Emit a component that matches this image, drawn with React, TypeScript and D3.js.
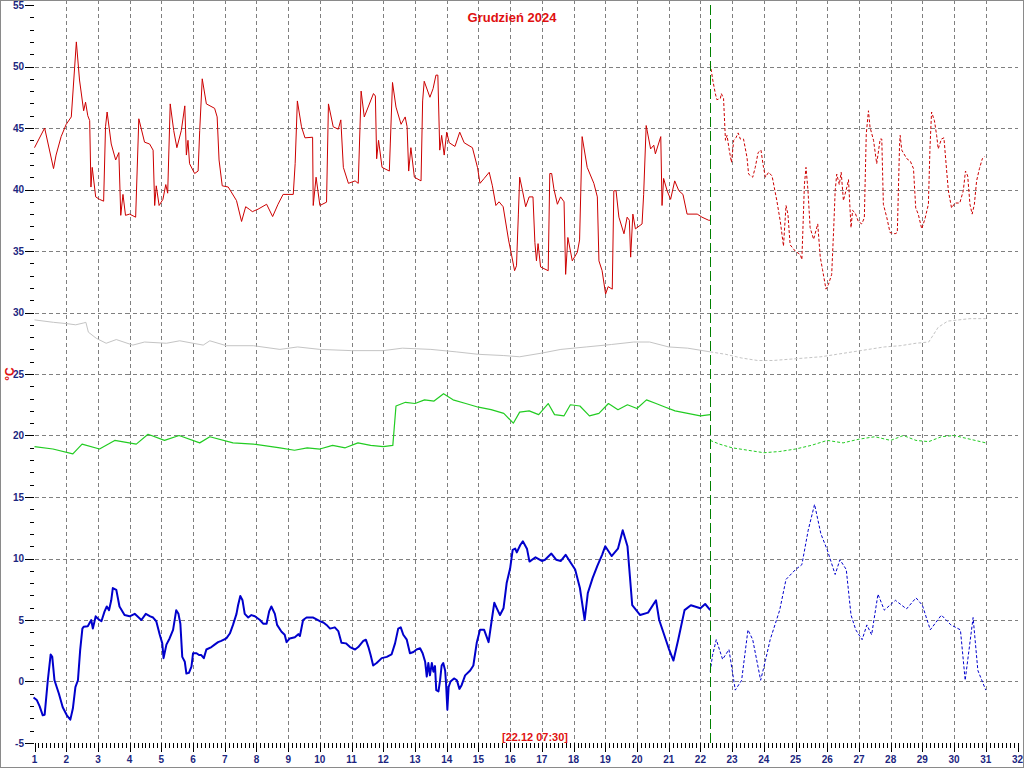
import React from 'react';
import * as d3 from 'd3';

const W = 1024;
const H = 768;

const title = 'Grudzień 2024';
const unitLabel = '°C';
const nowLabel = '[22.12 07:30]';
const nowDay = 22 + 7.5 / 24;

const dayTicks = d3.range(1, 33);
const valueTicks = d3.range(-5, 56, 5);
const minorValueTicks = d3.range(-5, 56, 1);
const minorDayTicks = d3.range(1, 32, 0.125);

type P = [number, number];

const redObserved: P[] = [
  [1.0, 43.4], [1.32, 45.0], [1.6, 41.7], [1.68, 42.8], [1.84, 44.3], [2.0, 45.3], [2.16, 45.9], [2.32, 52.0],
  [2.42, 48.9], [2.55, 46.4], [2.61, 47.1], [2.68, 46.0], [2.74, 45.6], [2.78, 40.2], [2.82, 41.8], [2.93, 39.4],
  [3.05, 39.2], [3.18, 39.05], [3.24, 45.1], [3.29, 46.3], [3.42, 43.7], [3.56, 42.4], [3.66, 43.0], [3.72, 37.9],
  [3.79, 39.6], [3.87, 37.9], [4.0, 38.0], [4.19, 37.75], [4.29, 45.75], [4.47, 43.85], [4.63, 43.7], [4.74, 43.2],
  [4.79, 38.7], [4.84, 40.3], [4.93, 38.7], [5.05, 39.2], [5.14, 40.4], [5.2, 39.7], [5.28, 46.96], [5.39, 44.8],
  [5.49, 43.4], [5.63, 44.8], [5.74, 46.8], [5.79, 42.8], [5.84, 44.0], [5.89, 42.1], [6.05, 41.3], [6.16, 41.5],
  [6.21, 44.8], [6.29, 49.0], [6.42, 46.96], [6.68, 46.6], [6.76, 45.9], [6.82, 42.4], [6.92, 40.3], [7.11, 40.2],
  [7.37, 39.1], [7.53, 37.4], [7.66, 38.6], [7.77, 38.4], [7.87, 38.2], [8.05, 38.4], [8.32, 38.8], [8.51, 37.8],
  [8.68, 38.8], [8.84, 39.6], [9.16, 39.6], [9.22, 42.1], [9.29, 47.2], [9.42, 45.1], [9.53, 44.2], [9.77, 44.25],
  [9.79, 38.7], [9.88, 41.0], [10.0, 38.7], [10.21, 38.97], [10.27, 46.96], [10.42, 45.1], [10.58, 44.9], [10.66, 45.66],
  [10.74, 41.8], [10.9, 40.5], [11.11, 40.7], [11.21, 40.5], [11.3, 48.0], [11.4, 45.9], [11.69, 47.8], [11.75, 47.6],
  [11.79, 42.5], [11.85, 44.0], [11.96, 41.8], [12.19, 41.5], [12.22, 43.7], [12.29, 48.7], [12.4, 46.7], [12.56, 45.3],
  [12.69, 45.9], [12.75, 45.1], [12.8, 41.5], [12.87, 43.4], [12.98, 41.0], [13.19, 40.7], [13.24, 47.2], [13.29, 48.8],
  [13.47, 47.5], [13.57, 48.2], [13.66, 49.3], [13.72, 49.3], [13.78, 43.2], [13.84, 44.4], [13.92, 42.8], [14.0, 44.66],
  [14.08, 43.8], [14.26, 43.5], [14.41, 44.66], [14.55, 43.8], [14.81, 43.4], [14.97, 41.8], [15.05, 40.5], [15.18, 40.9],
  [15.34, 41.4], [15.44, 40.3], [15.55, 38.7], [15.65, 39.0], [15.78, 38.6], [15.95, 35.9], [16.05, 34.6], [16.14, 33.4],
  [16.2, 33.8], [16.26, 38.0], [16.3, 41.0], [16.39, 39.9], [16.49, 38.6], [16.6, 39.4], [16.72, 39.4], [16.78, 35.7],
  [16.83, 34.2], [16.88, 35.6], [16.96, 33.7], [17.2, 33.4], [17.25, 41.3], [17.31, 41.3], [17.38, 40.05], [17.49, 38.8],
  [17.59, 39.4], [17.7, 39.0], [17.75, 33.1], [17.82, 36.1], [17.96, 34.2], [18.12, 34.9], [18.19, 35.9], [18.27, 44.3],
  [18.43, 41.8], [18.64, 40.5], [18.75, 39.4], [18.8, 34.2], [18.9, 33.4], [19.01, 31.5], [19.09, 32.1], [19.22, 31.9],
  [19.27, 39.9], [19.34, 39.9], [19.43, 37.75], [19.59, 36.4], [19.69, 37.75], [19.76, 37.5], [19.8, 34.5], [19.87, 38.0],
  [19.95, 36.8], [20.16, 37.2], [20.21, 39.6], [20.29, 45.2], [20.43, 43.3], [20.53, 43.6], [20.58, 42.9], [20.75, 44.3],
  [20.79, 38.7], [20.84, 40.9], [20.95, 39.9], [21.06, 39.2], [21.19, 40.7], [21.32, 39.9], [21.45, 39.6], [21.58, 38.0],
  [21.9, 38.0], [22.05, 37.75], [22.26, 37.5], [22.31, 37.5],
];

const redForecast: P[] = [
  [22.31, 50.2], [22.39, 48.9], [22.47, 47.8], [22.52, 47.3], [22.63, 47.4], [22.66, 47.8], [22.73, 47.4], [22.79, 44.0],
  [22.84, 44.4], [22.91, 43.2], [22.98, 42.2], [23.05, 44.0], [23.12, 44.2], [23.19, 44.6], [23.26, 44.1], [23.36, 44.1],
  [23.47, 42.6], [23.52, 41.25], [23.65, 41.0], [23.73, 41.8], [23.82, 43.0], [23.91, 43.2], [23.99, 41.8], [24.05, 41.0],
  [24.15, 41.4], [24.26, 41.1], [24.41, 39.1], [24.52, 37.4], [24.62, 35.4], [24.7, 38.7], [24.76, 38.0], [24.83, 35.5],
  [24.99, 35.0], [25.15, 34.7], [25.2, 34.3], [25.28, 40.4], [25.33, 41.8], [25.39, 40.0], [25.46, 36.9], [25.57, 35.95],
  [25.7, 37.2], [25.78, 34.5], [25.85, 33.5], [25.96, 31.9], [26.04, 32.3], [26.14, 33.1], [26.2, 36.6], [26.25, 39.9],
  [26.3, 41.25], [26.38, 40.4], [26.44, 41.4], [26.51, 39.1], [26.62, 40.2], [26.67, 40.8], [26.75, 36.9], [26.8, 38.3],
  [26.88, 38.1], [26.98, 37.4], [27.09, 37.2], [27.17, 37.7], [27.23, 44.5], [27.3, 46.4], [27.35, 45.05], [27.46, 44.0],
  [27.56, 42.1], [27.67, 44.1], [27.72, 44.1], [27.77, 38.8], [27.88, 37.7], [27.98, 36.5], [28.14, 36.4], [28.21, 36.5],
  [28.28, 43.6], [28.3, 44.4], [28.35, 43.2], [28.51, 42.5], [28.62, 42.3], [28.72, 41.7], [28.79, 38.5], [28.87, 38.0],
  [28.98, 36.8], [29.08, 37.6], [29.19, 38.8], [29.24, 43.4], [29.29, 46.3], [29.38, 45.6], [29.45, 44.4], [29.5, 43.3],
  [29.6, 44.1], [29.68, 44.2], [29.76, 41.7], [29.82, 39.9], [29.92, 38.5], [30.03, 38.9], [30.18, 38.9], [30.29, 39.9],
  [30.36, 41.5], [30.43, 41.1], [30.5, 38.8], [30.57, 38.0], [30.64, 38.8], [30.71, 40.7], [30.8, 41.7], [30.89, 42.5],
  [30.97, 42.7],
];

const grayObserved: P[] = [
  [1.0, 29.4], [1.3, 29.3], [1.6, 29.2], [2.0, 29.1], [2.3, 29.0], [2.55, 29.15], [2.62, 29.2], [2.7, 28.4],
  [2.95, 27.9], [3.26, 27.5], [3.58, 27.8], [4.1, 27.35], [4.47, 27.6], [5.16, 27.5], [5.58, 27.7], [6.32, 27.35],
  [6.53, 27.7], [7.05, 27.3], [7.9, 27.3], [8.74, 27.0], [9.3, 27.2], [10.0, 27.0], [11.0, 26.9], [12.0, 26.9],
  [12.6, 27.1], [13.5, 27.0], [14.3, 26.8], [15.0, 26.6], [15.8, 26.5], [16.3, 26.4], [17.0, 26.7], [17.6, 27.0],
  [18.4, 27.2], [19.2, 27.4], [19.9, 27.6], [20.4, 27.6], [21.0, 27.2], [21.6, 27.1], [22.31, 26.8],
];

const grayForecast: P[] = [
  [22.31, 26.8], [22.8, 26.6], [23.3, 26.3], [23.8, 26.1], [24.3, 26.1], [24.8, 26.2], [25.3, 26.3], [25.8, 26.4],
  [26.3, 26.6], [26.8, 26.8], [27.3, 27.0], [27.8, 27.2], [28.3, 27.3], [28.8, 27.5], [29.2, 27.6], [29.5, 28.8],
  [29.8, 29.3], [30.5, 29.5], [31.0, 29.5],
];

const greenObserved: P[] = [
  [1.0, 19.1], [1.58, 18.9], [2.21, 18.5], [2.5, 19.3], [3.05, 18.9], [3.53, 19.6], [4.21, 19.3], [4.58, 20.1],
  [5.1, 19.6], [5.56, 20.0], [6.21, 19.4], [6.53, 19.9], [7.26, 19.4], [7.9, 19.3], [8.74, 19.0], [9.2, 18.8],
  [9.6, 19.0], [10.0, 18.9], [10.4, 19.2], [10.8, 19.0], [11.2, 19.4], [11.6, 19.2], [12.0, 19.1], [12.3, 19.2],
  [12.4, 22.4], [12.7, 22.7], [13.0, 22.6], [13.3, 22.9], [13.6, 22.8], [13.9, 23.4], [14.2, 22.9], [14.6, 22.6],
  [15.0, 22.3], [15.4, 22.1], [15.8, 21.8], [16.1, 21.0], [16.3, 21.9], [16.6, 22.0], [16.9, 21.7], [17.2, 22.6],
  [17.4, 21.7], [17.7, 21.6], [17.9, 22.5], [18.2, 22.4], [18.5, 21.6], [18.8, 21.8], [19.1, 22.6], [19.4, 22.1],
  [19.7, 22.5], [20.0, 22.2], [20.3, 22.9], [20.6, 22.6], [20.9, 22.3], [21.2, 22.0], [21.6, 21.8], [22.0, 21.6],
  [22.31, 21.7],
];

const greenForecast: P[] = [
  [22.31, 19.6], [22.6, 19.3], [23.0, 19.0], [23.5, 18.8], [24.0, 18.6], [24.5, 18.7], [25.0, 18.9], [25.5, 19.2],
  [26.0, 19.6], [26.5, 19.4], [27.0, 19.7], [27.5, 19.9], [28.0, 19.6], [28.4, 20.0], [28.8, 19.6], [29.2, 19.5],
  [29.6, 19.9], [30.0, 20.0], [30.5, 19.7], [31.0, 19.4],
];

const blueObserved: P[] = [
  [0.97, -1.3], [1.07, -1.5], [1.16, -2.0], [1.26, -2.75], [1.32, -2.7], [1.42, 0.1], [1.51, 2.2], [1.56, 2.0],
  [1.63, 0.1], [1.77, -1.0], [1.89, -2.1], [2.02, -2.75], [2.13, -3.1], [2.21, -2.2], [2.29, -0.45], [2.37, 0.1],
  [2.44, 2.55], [2.51, 4.3], [2.55, 4.45], [2.68, 4.5], [2.79, 5.0], [2.84, 4.3], [2.93, 5.3], [3.0, 5.1],
  [3.11, 4.9], [3.21, 5.7], [3.28, 6.1], [3.35, 5.8], [3.42, 6.6], [3.47, 7.6], [3.58, 7.45], [3.68, 6.1],
  [3.84, 5.4], [4.0, 5.3], [4.16, 5.5], [4.37, 5.0], [4.51, 5.5], [4.65, 5.3], [4.74, 5.2], [4.84, 4.9],
  [4.95, 3.8], [5.03, 3.1], [5.07, 1.9], [5.16, 3.0], [5.26, 3.5], [5.37, 4.2], [5.47, 5.8], [5.54, 5.5],
  [5.6, 4.7], [5.66, 2.0], [5.74, 1.6], [5.79, 0.65], [5.87, 0.7], [5.95, 1.2], [6.0, 2.3], [6.11, 2.3],
  [6.19, 2.15], [6.26, 2.15], [6.34, 1.9], [6.42, 2.6], [6.58, 2.8], [6.68, 3.0], [6.79, 3.2], [6.89, 3.3],
  [7.05, 3.5], [7.16, 3.9], [7.26, 4.6], [7.37, 5.5], [7.42, 6.2], [7.49, 6.95], [7.56, 6.6], [7.63, 5.5],
  [7.74, 5.2], [7.84, 5.4], [7.95, 5.3], [8.11, 5.0], [8.21, 4.7], [8.32, 4.7], [8.4, 5.7], [8.47, 6.1],
  [8.58, 5.5], [8.65, 4.6], [8.79, 4.05], [8.89, 3.8], [8.95, 3.2], [9.05, 3.5], [9.21, 3.6], [9.32, 3.85],
  [9.37, 3.7], [9.47, 5.0], [9.58, 5.2], [9.79, 5.2], [10.0, 4.9], [10.11, 4.8], [10.21, 4.6], [10.32, 4.3],
  [10.47, 4.4], [10.58, 4.1], [10.68, 3.15], [10.82, 3.1], [10.95, 2.8], [11.11, 2.6], [11.21, 2.8], [11.37, 3.3],
  [11.45, 3.4], [11.53, 2.8], [11.6, 2.15], [11.68, 1.3], [11.79, 1.5], [11.95, 1.9], [12.11, 2.0], [12.26, 2.2],
  [12.37, 3.1], [12.47, 4.3], [12.55, 4.4], [12.63, 3.8], [12.74, 3.4], [12.84, 2.3], [12.95, 2.4], [13.05, 2.6],
  [13.16, 2.7], [13.24, 2.3], [13.32, 1.6], [13.37, 0.4], [13.42, 1.5], [13.47, 0.5], [13.53, 1.5], [13.58, 0.8],
  [13.63, 1.25], [13.67, -0.7], [13.74, -0.8], [13.79, 0.1], [13.84, 1.3], [13.89, 1.5], [13.95, 0.9], [13.98, -0.2],
  [14.02, -2.3], [14.06, -0.45], [14.12, 0.0], [14.23, 0.25], [14.32, 0.1], [14.4, -0.6], [14.47, -0.3], [14.58, 0.5],
  [14.74, 0.9], [14.84, 1.3], [14.95, 3.2], [15.05, 4.2], [15.18, 4.2], [15.32, 3.2], [15.42, 5.0], [15.5, 6.4],
  [15.58, 5.95], [15.68, 5.4], [15.79, 5.95], [15.89, 8.0], [16.0, 9.2], [16.08, 10.7], [16.16, 10.8], [16.21, 10.5],
  [16.32, 11.1], [16.4, 11.4], [16.53, 10.8], [16.61, 9.75], [16.8, 10.1], [17.0, 9.8], [17.1, 9.9], [17.3, 10.4],
  [17.45, 9.9], [17.6, 9.8], [17.75, 10.3], [17.9, 9.7], [18.05, 9.1], [18.2, 7.6], [18.35, 5.0], [18.45, 7.2],
  [18.6, 8.4], [18.75, 9.4], [18.9, 10.3], [19.0, 11.0], [19.2, 10.2], [19.4, 10.8], [19.55, 12.3], [19.7, 11.0],
  [19.85, 6.2], [20.1, 5.4], [20.35, 5.6], [20.6, 6.6], [20.7, 5.0], [21.0, 2.7], [21.15, 1.7], [21.3, 3.4],
  [21.5, 5.8], [21.7, 6.2], [22.0, 5.95], [22.15, 6.3], [22.31, 5.8],
];

const blueForecast: P[] = [
  [22.31, 0.8], [22.38, 2.1], [22.5, 3.4], [22.7, 1.8], [22.9, 2.6], [23.1, -0.7], [23.3, 0.1], [23.5, 4.2],
  [23.65, 3.4], [23.9, 0.1], [24.05, 1.7], [24.2, 3.4], [24.5, 5.8], [24.7, 8.3], [25.0, 9.1], [25.2, 9.5],
  [25.4, 12.3], [25.6, 14.4], [25.8, 12.0], [26.0, 10.7], [26.25, 8.7], [26.4, 9.9], [26.6, 9.1], [26.75, 5.4],
  [26.9, 4.2], [27.1, 3.4], [27.25, 4.6], [27.4, 3.8], [27.6, 7.1], [27.8, 5.8], [28.15, 6.6], [28.5, 5.9],
  [28.8, 6.8], [29.0, 6.2], [29.25, 4.2], [29.6, 5.4], [29.9, 4.6], [30.2, 4.2], [30.35, 0.1], [30.6, 5.2],
  [30.75, 0.9], [31.0, -0.7],
];

const x = d3.scaleLinear().domain([1, 32]).range([34.5, 1017.5]);
const y = d3.scaleLinear().domain([-5, 55]).range([743, 5]);

const line = d3
  .line<P>()
  .x((d) => x(d[0]))
  .y((d) => y(d[1]));

const NAVY = '#1c2680';
const FONT = '"Liberation Sans", Arial, sans-serif';

export default function App() {
  const gridValues = valueTicks.filter((v) => v >= 0 && v <= 50);
  const gridDays = dayTicks.filter((d) => d >= 2 && d <= 31);
  return (
    <svg
      width={W}
      height={H}
      viewBox={`0 0 ${W} ${H}`}
      style={{ position: 'absolute', left: 0, top: 0, background: '#fff' }}
      fontFamily={FONT}
    >
      <rect x={0} y={0} width={W} height={H} fill="#fff" />
      {/* grid */}
      <g stroke="#808080" strokeWidth={1} strokeDasharray="4,3" shapeRendering="crispEdges">
        {gridValues.map((v) => (
          <line key={'h' + v} x1={x(1)} x2={x(32)} y1={Math.round(y(v)) + 0.5} y2={Math.round(y(v)) + 0.5} />
        ))}
        {gridDays.map((d) => (
          <line key={'v' + d} x1={Math.round(x(d)) + 0.5} x2={Math.round(x(d)) + 0.5} y1={0} y2={y(-5)} />
        ))}
      </g>
      {/* y axis ticks */}
      <g stroke="#000" strokeWidth={1} shapeRendering="crispEdges">
        {minorValueTicks.map((v) => {
          const major = v % 5 === 0;
          const yy = Math.round(y(v)) + 0.5;
          return <line key={'yt' + v} x1={major ? 25 : 30} x2={34} y1={yy} y2={yy} />;
        })}
        {minorDayTicks.map((d, i) => {
          const major = i % 8 === 0;
          const xx = Math.round(x(d)) + 0.5;
          return <line key={'xt' + i} x1={xx} x2={xx} y1={743} y2={major ? 752 : 748} />;
        })}
        <line x1={Math.round(x(32)) + 0.5} x2={Math.round(x(32)) + 0.5} y1={743} y2={752} />
      </g>
      <g fill={NAVY} fontSize={10} fontWeight="bold">
        {valueTicks.map((v) => (
          <text key={'yl' + v} x={24} y={y(v) + 3.5} textAnchor="end">
            {v}
          </text>
        ))}
        {dayTicks.map((d) => (
          <text key={'xl' + d} x={x(d)} y={763} textAnchor="middle">
            {d}
          </text>
        ))}
      </g>
      {/* series */}
      <g fill="none" strokeLinejoin="round">
        <path d={line(grayObserved) ?? ''} stroke="#c4c4c4" strokeWidth={1} />
        <path d={line(grayForecast) ?? ''} stroke="#c4c4c4" strokeWidth={1} strokeDasharray="3,2" />
        <path d={line(greenObserved) ?? ''} stroke="#22cc22" strokeWidth={1.2} />
        <path d={line(greenForecast) ?? ''} stroke="#22cc22" strokeWidth={1} strokeDasharray="3,2" />
        <path d={line(redObserved) ?? ''} stroke="#cc0000" strokeWidth={1} />
        <path d={line(redForecast) ?? ''} stroke="#cc0000" strokeWidth={1} strokeDasharray="3,2" />
        <path d={line(blueObserved) ?? ''} stroke="#0000cc" strokeWidth={2} />
        <path d={line(blueForecast) ?? ''} stroke="#0000cc" strokeWidth={1} strokeDasharray="3,2" />
      </g>
      {/* now marker */}
      <line
        x1={Math.round(x(nowDay)) + 0.5}
        x2={Math.round(x(nowDay)) + 0.5}
        y1={5}
        y2={y(-5)}
        stroke="#008000"
        strokeWidth={1}
        strokeDasharray="10,4"
        shapeRendering="crispEdges"
      />
      <text x={512} y={22} textAnchor="middle" fill="#e01010" fontSize={13} fontWeight="bold">
        {title}
      </text>
      <text x={535} y={741} textAnchor="middle" fill="#e01010" fontSize={11} fontWeight="bold">
        {nowLabel}
      </text>
      <text
        transform="translate(14,374) rotate(-90)"
        textAnchor="middle"
        fill="#e01010"
        fontSize={12}
        fontWeight="bold"
      >
        {unitLabel}
      </text>
      <rect x={0.5} y={0.5} width={W - 1} height={H - 1} fill="none" stroke="#8a8a8a" strokeWidth={1} />
    </svg>
  );
}
